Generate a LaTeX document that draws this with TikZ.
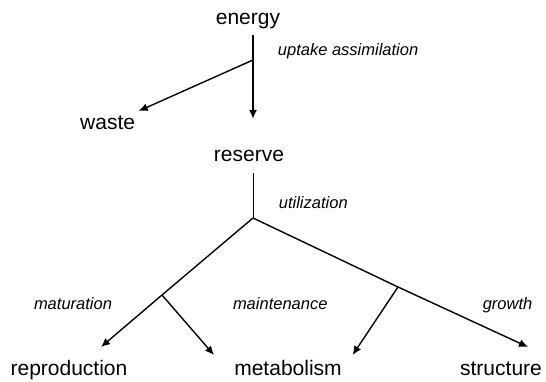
\documentclass[tikz,border=0pt]{standalone}
\usepackage{fontspec}
\setmainfont{Liberation Sans}
\usetikzlibrary{arrows.meta}

\begin{document}
\begin{tikzpicture}[x=1pt, y=-1pt,
  every node/.style={inner sep=0pt, anchor=base, font=\fontsize{21}{25}\selectfont},
  flow/.style={anchor=base west, font=\fontsize{16.5}{20}\selectfont\itshape},
  main/.style={line width=2.2pt, -{Latex[length=9pt,width=8pt]}},
  side/.style={line width=1.4pt, -{Latex[length=9pt,width=8pt]}}]
\useasboundingbox (0,0) rectangle (546,382);
\node (energy) at (248,25) {energy};
\node (waste) at (107.6,130) {waste};
\node (reserve) at (249,162) {reserve};
\node (reproduction) at (69,375) {reproduction};
\node (metabolism) at (288,375) {metabolism};
\node (structure) at (501,375) {structure};
\node[flow] (uptake) at (277.7,56) {uptake assimilation};
\node[flow] (utilization) at (278.7,209) {utilization};
\node[flow] (maturation) at (33.8,309) {maturation};
\node[flow] (maintenance) at (232.8,309) {maintenance};
\node[flow] (growth) at (482.6,309) {growth};
\coordinate (E1) at (253,35);
\coordinate (E2) at (253,60);
\coordinate (E3) at (253,119);
\coordinate (W1) at (138.7,111);
\coordinate (R1) at (253,173);
\coordinate (R2) at (253,218);
\coordinate (L1) at (162,295);
\coordinate (L2) at (101,347);
\coordinate (L3) at (214,355);
\coordinate (S1) at (398,287);
\coordinate (S2) at (528,347);
\coordinate (S3) at (352.6,355);
\draw[main] (E1) -- (E3);
\draw[side] (E2) -- (W1);
\draw[line width=0.8pt] (R1) -- (R2);
\draw[side] (R2) -- (L1) -- (L2);
\draw[side] (L1) -- (L3);
\draw[side] (R2) -- (S1) -- (S2);
\draw[side] (S1) -- (S3);
\end{tikzpicture}
\end{document}
